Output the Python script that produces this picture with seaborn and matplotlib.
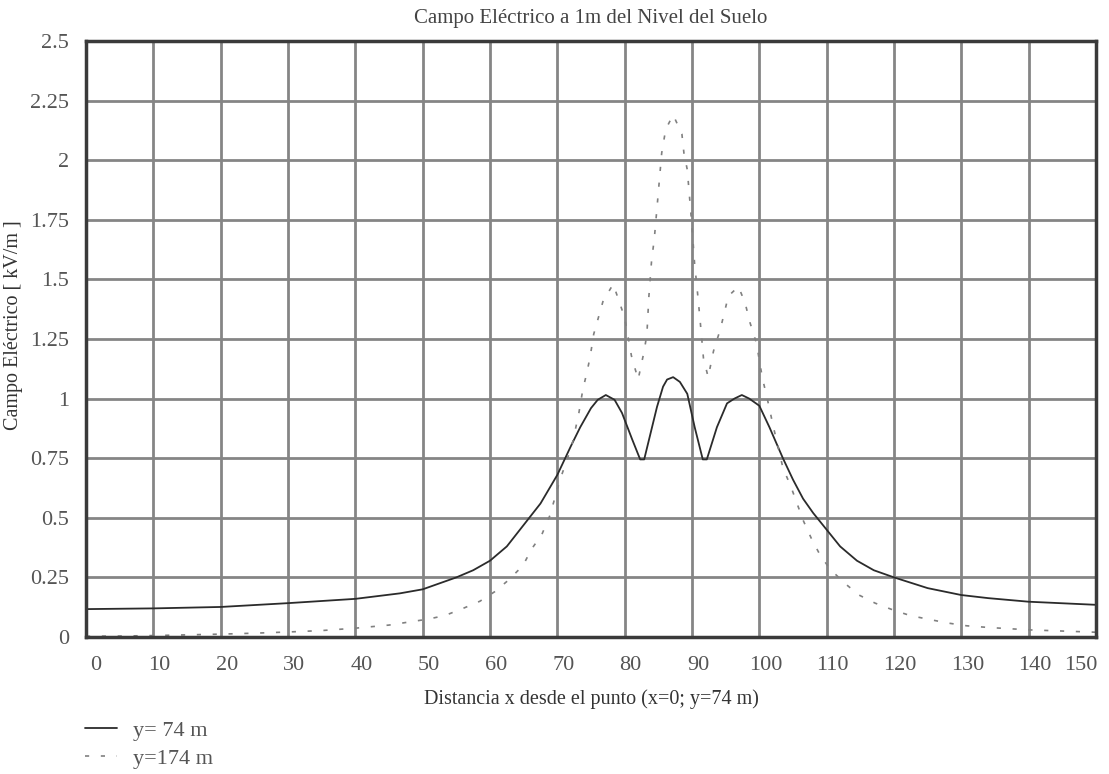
import numpy as np
import pandas as pd
import matplotlib
matplotlib.use("Agg")
import matplotlib.pyplot as plt
import seaborn as sns

# y = 74 m (solid)
x74 = [0, 10, 20, 30, 40, 46.6, 50, 55, 57.5, 60, 62.5, 65, 67.5, 70, 72, 73.4, 75, 76, 77.2, 78.5, 79.6,
       81.1, 82.3, 82.9, 84.8, 85.7, 86.3, 87.2, 88.2, 89.3, 90.4, 91.6, 92.2, 93.7, 95.2, 96.3, 97.4,
       98.5, 100, 101.5, 103.5, 105, 106.5, 108, 110, 112, 114.5, 117, 120, 125, 130, 134, 140, 150]
e74 = [0.117, 0.12, 0.126, 0.142, 0.16, 0.183, 0.20, 0.25, 0.28, 0.32, 0.38, 0.47, 0.56, 0.68, 0.80, 0.88, 0.96, 0.995, 1.015, 0.995, 0.94,
       0.83, 0.745, 0.745, 0.965, 1.05, 1.08, 1.09, 1.07, 1.02, 0.88, 0.745, 0.745, 0.88, 0.98, 1.0, 1.015,
       1.0, 0.97, 0.88, 0.75, 0.66, 0.58, 0.52, 0.45, 0.38, 0.32, 0.28, 0.25, 0.205, 0.176, 0.163, 0.148, 0.135]

# y = 174 m (dashed)
x174 = [0, 5, 10, 15, 20, 25, 30, 35, 40, 45, 48, 50.8, 53.3, 56, 58.5, 60.7, 62.8, 64.9, 66.2, 67.7,
        68.9, 70.4, 71.4, 72.3, 73.2, 73.8, 74.4, 74.9, 75.4, 76.1, 76.8, 78.3, 80, 81, 82, 82.9, 83.3,
        83.6, 84, 84.4, 84.8, 85.5, 86.1, 87.2, 88.5, 88.8, 89.3, 90, 90.4, 90.7, 91.2, 91.7, 92.4, 93.2,
        94.2, 95.4, 96.9, 97.9, 98.6, 99.6, 100, 100.5, 101.1, 102.1, 103.5, 104.7, 105.6, 106.5, 107.7,
        109, 110.5, 112.7, 114.8, 117.2, 119.9, 122.4, 125, 127.9, 130.8, 134, 140, 145, 150]
e174 = [0.003, 0.004, 0.006, 0.009, 0.012, 0.016, 0.021, 0.027, 0.037, 0.05, 0.063, 0.075, 0.09, 0.12, 0.15, 0.19, 0.24, 0.30, 0.37, 0.43,
        0.51, 0.66, 0.74, 0.82, 0.94, 1.04, 1.11, 1.18, 1.27, 1.34, 1.41, 1.48, 1.34, 1.18, 1.08, 1.2, 1.27,
        1.43, 1.58, 1.67, 1.8, 2.03, 2.13, 2.19, 2.11, 2.03, 1.96, 1.72, 1.56, 1.48, 1.33, 1.17, 1.09, 1.2,
        1.29, 1.43, 1.47, 1.40, 1.32, 1.23, 1.16, 1.08, 1.01, 0.88, 0.71, 0.63, 0.56, 0.49, 0.415,
        0.345, 0.285, 0.225, 0.176, 0.142, 0.113, 0.09, 0.075, 0.059, 0.047, 0.04, 0.03, 0.025, 0.02]

xticks = list(range(0, 151, 10))
yticks = [0, 0.25, 0.5, 0.75, 1, 1.25, 1.5, 1.75, 2, 2.25, 2.5]
ytick_labels = ["0", "0.25", "0.5", "0.75", "1", "1.25", "1.5", "1.75", "2", "2.25", "2.5"]

sns.set_style("white")
plt.rcParams['font.family'] = ['Liberation Serif', 'DejaVu Serif']

fig = plt.figure(figsize=(11.09, 7.74), dpi=100)
ax = fig.add_axes([86/1109, 1-637/774, (1096-86)/1109, (637-41)/774])

sns.lineplot(x=x74, y=e74, ax=ax, color="#2b2b2b", linewidth=1.3, sort=False, label="y= 74 m", legend=False)
sns.lineplot(x=x174, y=e174, ax=ax, color="#808080", linewidth=1.2, sort=False, label="y=174 m", legend=False,
             linestyle=(0, (2.5, 7)))

ax.set_xlim(0, 150)
ax.set_ylim(0, 2.5)
# gridlines on major ticks (no labels); labels on minor ticks, nudged like the original
ax.set_xticks(xticks)
ax.set_xticklabels([])
label_pos = [t + 0.9 for t in xticks]
label_pos[0] = xticks[0] + 1.4
label_pos[-1] = xticks[-1] - 2.3
ax.set_xticks(label_pos, minor=True)
ax.set_xticklabels([str(t) for t in xticks], minor=True)
ax.set_yticks(yticks)
ax.set_yticklabels(ytick_labels)
ax.grid(True, which="major", color="#858585", linewidth=2.0)
ax.grid(False, which="minor")
ax.set_axisbelow(True)
for s in ax.spines.values():
    s.set_color("#3a3a3a")
    s.set_linewidth(2.5)
ax.tick_params(which="both", length=0, labelsize=16, colors="#555555")
ax.tick_params(axis="x", which="both", pad=14)
ax.tick_params(axis="y", pad=12)

ax.set_title("Campo Eléctrico a 1m del Nivel del Suelo", fontsize=15, color="#444444", pad=13)
ax.set_xlabel("Distancia x desde el punto (x=0; y=74 m)", fontsize=14.5, color="#333333", labelpad=10)
ax.set_ylabel("Campo Eléctrico [ kV/m ]", fontsize=14.5, color="#333333", labelpad=14)
ax.yaxis.set_label_coords(-0.062, 0.523)

handles, labels = ax.get_legend_handles_labels()
fig.legend(handles, labels, loc="upper left", bbox_to_anchor=(85/1109, 1-720/774), frameon=False,
           fontsize=16, handlelength=1.45, handletextpad=0.7, labelspacing=0.35,
           borderpad=0, borderaxespad=0, labelcolor="#555555")

fig.savefig("out.png", dpi=100)
